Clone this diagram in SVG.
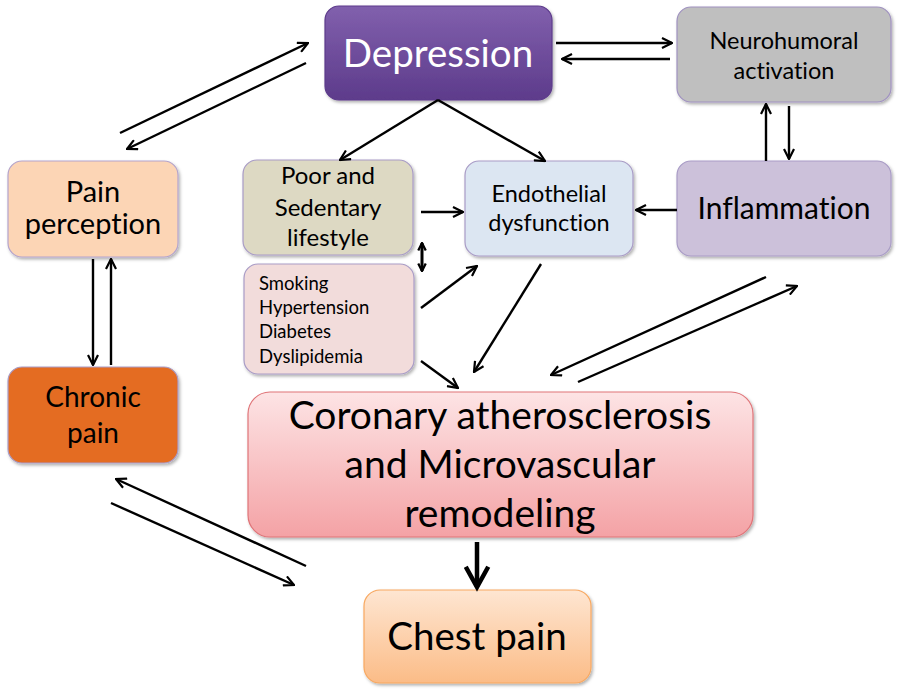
<svg xmlns="http://www.w3.org/2000/svg" width="900" height="695" viewBox="0 0 900 695">
<defs>
<linearGradient id="gDep" x1="0" y1="0" x2="0" y2="1"><stop offset="0" stop-color="#8160ad"/><stop offset="1" stop-color="#5d3b8b"/></linearGradient>
<linearGradient id="gCor" x1="0" y1="0" x2="0" y2="1"><stop offset="0" stop-color="#fde4e5"/><stop offset="1" stop-color="#f4a2a5"/></linearGradient>
<linearGradient id="gChest" x1="0" y1="0" x2="0" y2="1"><stop offset="0" stop-color="#fee6d2"/><stop offset="1" stop-color="#fbbc87"/></linearGradient>
<filter id="sh" x="-10%" y="-10%" width="125%" height="130%"><feDropShadow dx="1.5" dy="2" stdDeviation="1.5" flood-color="#000" flood-opacity="0.3"/></filter>
<marker id="ah" viewBox="0 0 12 12" refX="11" refY="6" markerWidth="12" markerHeight="12" markerUnits="userSpaceOnUse" orient="auto-start-reverse">
<path d="M1,1 L11,6 L1,11" fill="none" stroke="#000" stroke-width="2.2"/>
</marker>
<marker id="ahs" viewBox="0 0 12 12" refX="11" refY="6" markerWidth="9" markerHeight="12" markerUnits="userSpaceOnUse" orient="auto-start-reverse">
<path d="M1,1 L11,6 L1,11" fill="none" stroke="#000" stroke-width="3"/>
</marker>
<marker id="ahb" viewBox="0 0 12 12" refX="10" refY="6" markerWidth="6" markerHeight="6" orient="auto">
<path d="M1,1 L10,6 L1,11" fill="none" stroke="#000" stroke-width="2"/>
</marker>
</defs>
<style>
.box{filter:url(#sh);stroke-width:1.2}
text{font-family:Lato,"Liberation Sans",sans-serif;fill:#000;text-anchor:middle;font-variant-ligatures:none;font-feature-settings:"liga" 0,"dlig" 0}
.c line{stroke:#000;stroke-width:2.4;fill:none;marker-end:url(#ah)}
</style>
<rect width="900" height="695" fill="#fff"/>

<g id="depression"><rect class="box" x="325" y="6" width="227" height="94" rx="14" fill="url(#gDep)" stroke="#5d3b8b"/>
<text x="438" y="67" font-size="38.5" style="fill:#fff">Depression</text></g>

<g id="neurohumoral"><rect class="box" x="677" y="7" width="214" height="95" rx="14" fill="#bfbfbf" stroke="#a092c0"/>
<text x="784" y="49" font-size="23.5">Neurohumoral</text><text x="784" y="79" font-size="23.5">activation</text></g>

<g id="pain-perception"><rect class="box" x="8" y="161" width="170" height="96" rx="14" fill="#fcd5b5" stroke="#b4a4cc"/>
<text x="93" y="202" font-size="29">Pain</text><text x="93" y="234" font-size="29">perception</text></g>

<g id="lifestyle"><rect class="box" x="243" y="160" width="170" height="95" rx="14" fill="#ddd9c3" stroke="#a99cc6"/>
<text x="328" y="184" font-size="24">Poor and</text><text x="328" y="216" font-size="24">Sedentary</text><text x="328" y="246" font-size="24">lifestyle</text></g>

<g id="endothelial"><rect class="box" x="465" y="161" width="168" height="95" rx="14" fill="#dce6f2" stroke="#a99cc6"/>
<text x="549" y="202" font-size="23.5">Endothelial</text><text x="549" y="231" font-size="23.5">dysfunction</text></g>

<g id="inflammation"><rect class="box" x="677" y="161" width="214" height="95" rx="14" fill="#ccc1da" stroke="#a99cc6"/>
<text x="784" y="219" font-size="30">Inflammation</text></g>

<g id="risk-factors"><rect class="box" x="244" y="264" width="170" height="110" rx="14" fill="#f2dcdb" stroke="#a99cc6"/>
<text x="259" y="290" font-size="18.5" style="text-anchor:start">Smoking</text><text x="259" y="314" font-size="18.5" style="text-anchor:start">Hypertension</text><text x="259" y="338" font-size="18.5" style="text-anchor:start">Diabetes</text><text x="259" y="363" font-size="18.5" style="text-anchor:start">Dyslipidemia</text></g>

<g id="chronic-pain"><rect class="box" x="8" y="367" width="170" height="96" rx="14" fill="#e46c24" stroke="#a99cc6"/>
<text x="93" y="407" font-size="28">Chronic</text><text x="93" y="443" font-size="28">pain</text></g>

<g id="coronary"><rect class="box" x="248" y="392" width="505" height="145" rx="22" fill="url(#gCor)" stroke="#e07478"/>
<text x="500" y="429" font-size="39">Coronary atherosclerosis</text><text x="500" y="478" font-size="39">and Microvascular</text><text x="500" y="527" font-size="39">remodeling</text></g>

<g id="chest-pain"><rect class="box" x="364" y="590" width="227" height="93" rx="16" fill="url(#gChest)" stroke="#f8a860"/>
<text x="477" y="650" font-size="38.5">Chest pain</text></g>

<g id="connectors" class="c">
<line x1="120" y1="133" x2="308" y2="43"/>
<line x1="306" y1="63" x2="127" y2="149"/>
<line x1="556" y1="43" x2="672" y2="43"/>
<line x1="670" y1="59" x2="562" y2="59"/>
<line x1="438" y1="100" x2="340" y2="160"/>
<line x1="438" y1="100" x2="545" y2="161"/>
<line x1="766" y1="161" x2="766" y2="104"/>
<line x1="789" y1="106" x2="789" y2="159"/>
<line x1="677" y1="210" x2="636" y2="210"/>
<line x1="421" y1="212" x2="463" y2="212"/>
<line x1="422" y1="243" x2="422" y2="271" style="stroke-width:3;marker-start:url(#ahs);marker-end:url(#ahs)"/>
<line x1="421" y1="308" x2="477" y2="266"/>
<line x1="421" y1="361" x2="458" y2="388"/>
<line x1="541" y1="264" x2="474" y2="372"/>
<line x1="766" y1="277" x2="551" y2="375"/>
<line x1="578" y1="382" x2="797" y2="286"/>
<line x1="93" y1="259" x2="93" y2="365"/>
<line x1="111" y1="365" x2="111" y2="259"/>
<line x1="306" y1="566" x2="116" y2="479"/>
<line x1="111" y1="503" x2="294" y2="585"/>
<line x1="477" y1="542" x2="477" y2="587" style="stroke-width:4.5;marker-end:url(#ahb)"/>
</g>
</svg>
